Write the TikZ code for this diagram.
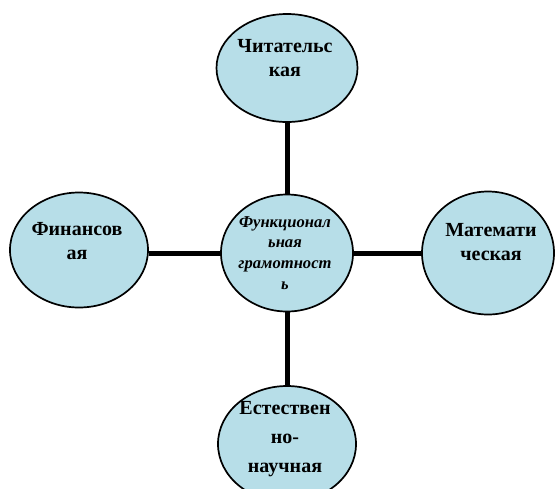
\documentclass[tikz,border=0pt]{standalone}
\usepackage{fontspec}
\setmainfont{Liberation Serif}
\usetikzlibrary{shapes.geometric}
\definecolor{aqua}{RGB}{183,222,232}

\begin{document}
\begin{tikzpicture}[x=0.5pt,y=-0.5pt,
          oval/.style={ellipse,draw=black,line width=0.85pt,fill=aqua,inner sep=0pt},
          txt/.style={align=center,font=\bfseries\fontsize{10}{12}\selectfont},
          link/.style={line width=2.5pt}]
          \useasboundingbox (0,0) rectangle (555,488);

          \coordinate (T) at (287,68);
          \coordinate (F) at (287,253);
          \coordinate (L) at (79,250);
          \coordinate (R) at (488,253);
          \coordinate (B) at (287,444);

          \node[oval,minimum width=70.5pt,minimum height=54pt] (tch) at (T) {};
          \node[oval,minimum width=66pt,minimum height=58.5pt] (fun) at (F) {};
          \node[oval,minimum width=69pt,minimum height=57.5pt] (fin) at (L) {};
          \node[oval,minimum width=66pt,minimum height=61.5pt] (mat) at (R) {};
          \node[oval,minimum width=69pt,minimum height=58pt] (est) at (B) {};

          \draw[link] (tch.south) -- (fun.north);
          \draw[link] (fun.south) -- (est.north);
          \draw[link] (fun.west) -- (fun.west -| fin.east);
          \draw[link] (fun.east) -- (fun.east -| mat.west);

          \node[txt] (tch-t) at (285,58) {Читательс\\кая};
          \node[txt] (fin-t) at (77,241) {Финансов\\ая};
          \node[txt] (mat-t) at (491,242) {Математи\\ческая};
          \node[txt,font=\bfseries\fontsize{10}{14.5}\selectfont] (est-t) at (285,439) {Естествен\\но-\\научная};
          \node[txt,font=\bfseries\itshape\fontsize{8.3}{10.4}\selectfont] (fun-t) at (285,253) {Функционал\\ьная\\грамотност\\ь};

\end{tikzpicture}
\end{document}
